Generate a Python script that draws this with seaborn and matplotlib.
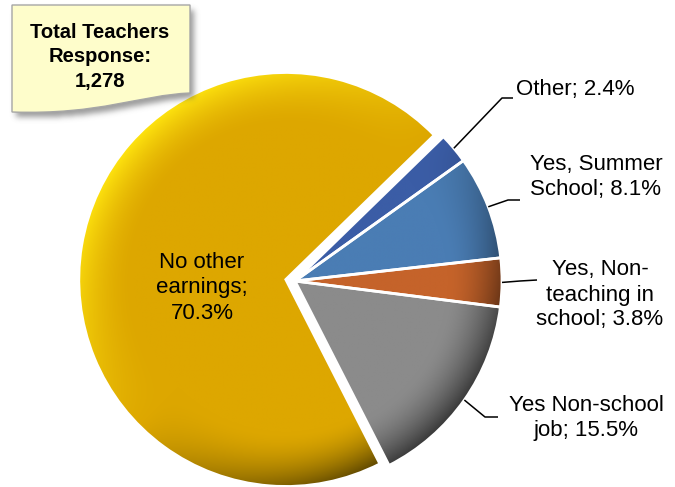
import numpy as np
import matplotlib
matplotlib.use("Agg")
import matplotlib.pyplot as plt
from matplotlib.patches import Wedge, PathPatch
from matplotlib.path import Path
from matplotlib.colors import to_rgb
import seaborn as sns

# ---- data ----
categories = ["Other", "Yes, Summer\nSchool", "Yes, Non-\nteaching in\nschool",
              "Yes Non-school\njob", "No other\nearnings"]
shares = [2.4, 8.1, 3.8, 15.5, 70.3]
slice_colors = ["#3B5DA6", "#4A7DB4", "#C5632A", "#8B8B8B", "#DDA700"]
total_label = "Total Teachers\nResponse:\n1,278"

W, H = 675, 487
sns.set_theme(style="white")
plt.rcParams["font.family"] = ["Liberation Sans", "DejaVu Sans"]

fig = plt.figure(figsize=(W / 100, H / 100), dpi=100)
ax = fig.add_axes([0, 0, 1, 1])


def Y(y):
    """Top-down pixel row -> data y."""
    return H - y


center = (295, Y(281))
R = 207
# matplotlib offsets exploded wedges in data units, so scale by the radius
explode = [0, 0, 0, 0, 0.045 * R]

wedges, _ = ax.pie(shares, colors=slice_colors, startangle=44.2, counterclock=False,
                   radius=R, center=center, explode=explode,
                   wedgeprops=dict(linewidth=0))


def shade_wedge(w, base):
    cx, cy = w.center
    r = w.r
    n = 500
    xs = np.linspace(cx - r, cx + r, n)
    ys = np.linspace(cy - r, cy + r, n)
    X, Yg = np.meshgrid(xs, ys)
    dx, dy = (X - cx) / r, (Yg - cy) / r
    rho = np.hypot(dx, dy)
    phi = np.arctan2(dy, dx)
    rim = np.clip((rho - 0.74) / 0.26, 0, 1) ** 1.7
    light = np.cos(phi - np.deg2rad(135))
    s = (rim * light)[..., None]
    b = np.array(to_rgb(base))
    hi = np.clip(b * 1.28 + 0.06, 0, 1)
    col = np.where(s > 0, b + (hi - b) * s, b * (1 + 0.6 * s))
    col = np.clip(col, 0, 1)
    im = ax.imshow(col, extent=[cx - r, cx + r, cy - r, cy + r], origin="lower",
                   zorder=2, interpolation="bilinear")
    im.set_clip_path(w)


for w, c in zip(wedges, slice_colors):
    shade_wedge(w, c)
    ax.add_patch(Wedge(w.center, w.r, w.theta1, w.theta2, fill=False,
                       ec="white", lw=2.0, zorder=3))

# ---- slice labels with leader lines ----
value_sep = [" ", " ", " ", " ", "\n"]
label_text = [f"{c};{s}{v}%" for c, s, v in zip(categories, value_sep, shares)]
label_pos = [(575, 90), (596, 177), (600, 295), (586, 418), (202, 288)]
leader_tail = [[(502, 98), (513, 98)],
               [(508, 200), (520, 200)],
               [(520, 281), (537, 280)],
               [(485, 417), (498, 417)],
               None]
spacing = [1.2, 1.2, 1.25, 1.2, 1.3]

for w, txt, (tx, ty), tail, ls in zip(wedges, label_text, label_pos, leader_tail, spacing):
    ax.text(tx, Y(ty), txt, ha="center", va="center", fontsize=16,
            color="black", linespacing=ls, zorder=5)
    if tail is not None:
        mid = np.deg2rad((w.theta1 + w.theta2) / 2)
        sx = w.center[0] + w.r * np.cos(mid)
        sy = w.center[1] + w.r * np.sin(mid)
        px = [sx] + [p[0] for p in tail]
        py = [sy] + [Y(p[1]) for p in tail]
        ax.plot(px, py, color="black", lw=1.1, zorder=4, solid_capstyle="butt")

# ---- callout note ----
def note_path(ox=0.0, oy=0.0):
    verts = [(12, 5), (190, 5), (190, 93), (140, 95), (100, 115), (12, 112), (12, 5)]
    codes = [Path.MOVETO, Path.LINETO, Path.LINETO, Path.CURVE4, Path.CURVE4,
             Path.CURVE4, Path.CLOSEPOLY]
    return Path([(x + ox, Y(y + oy)) for x, y in verts], codes)


# soft drop shadow
gx = np.arange(0, 220)
gy = np.arange(0, 140)
GX, GY = np.meshgrid(gx + 0.5, gy + 0.5)
pts = np.column_stack([GX.ravel(), Y(GY.ravel())])
mask = note_path(4, 5).contains_points(pts).reshape(GX.shape).astype(float)
k = np.exp(-0.5 * (np.arange(-9, 10) / 3.0) ** 2)
k /= k.sum()
mask = np.apply_along_axis(lambda m: np.convolve(m, k, mode="same"), 0, mask)
mask = np.apply_along_axis(lambda m: np.convolve(m, k, mode="same"), 1, mask)
shadow = np.zeros(mask.shape + (4,))
shadow[..., :3] = 0.35
shadow[..., 3] = mask * 0.6
ax.imshow(shadow, extent=[0, 220, Y(140), Y(0)], origin="upper", zorder=6,
          interpolation="bilinear")

ax.add_patch(PathPatch(note_path(), facecolor="#FEFDCB", edgecolor="#A6A6A6",
                       lw=1.0, zorder=7))
ax.text(100, Y(57), total_label, ha="center", va="center", fontsize=14.5,
        fontweight="bold", color="black", linespacing=1.36, zorder=8)

ax.set_xlim(0, W)
ax.set_ylim(0, H)
ax.set_aspect("equal")
ax.axis("off")

fig.savefig("out.png", dpi=100, facecolor="white")
